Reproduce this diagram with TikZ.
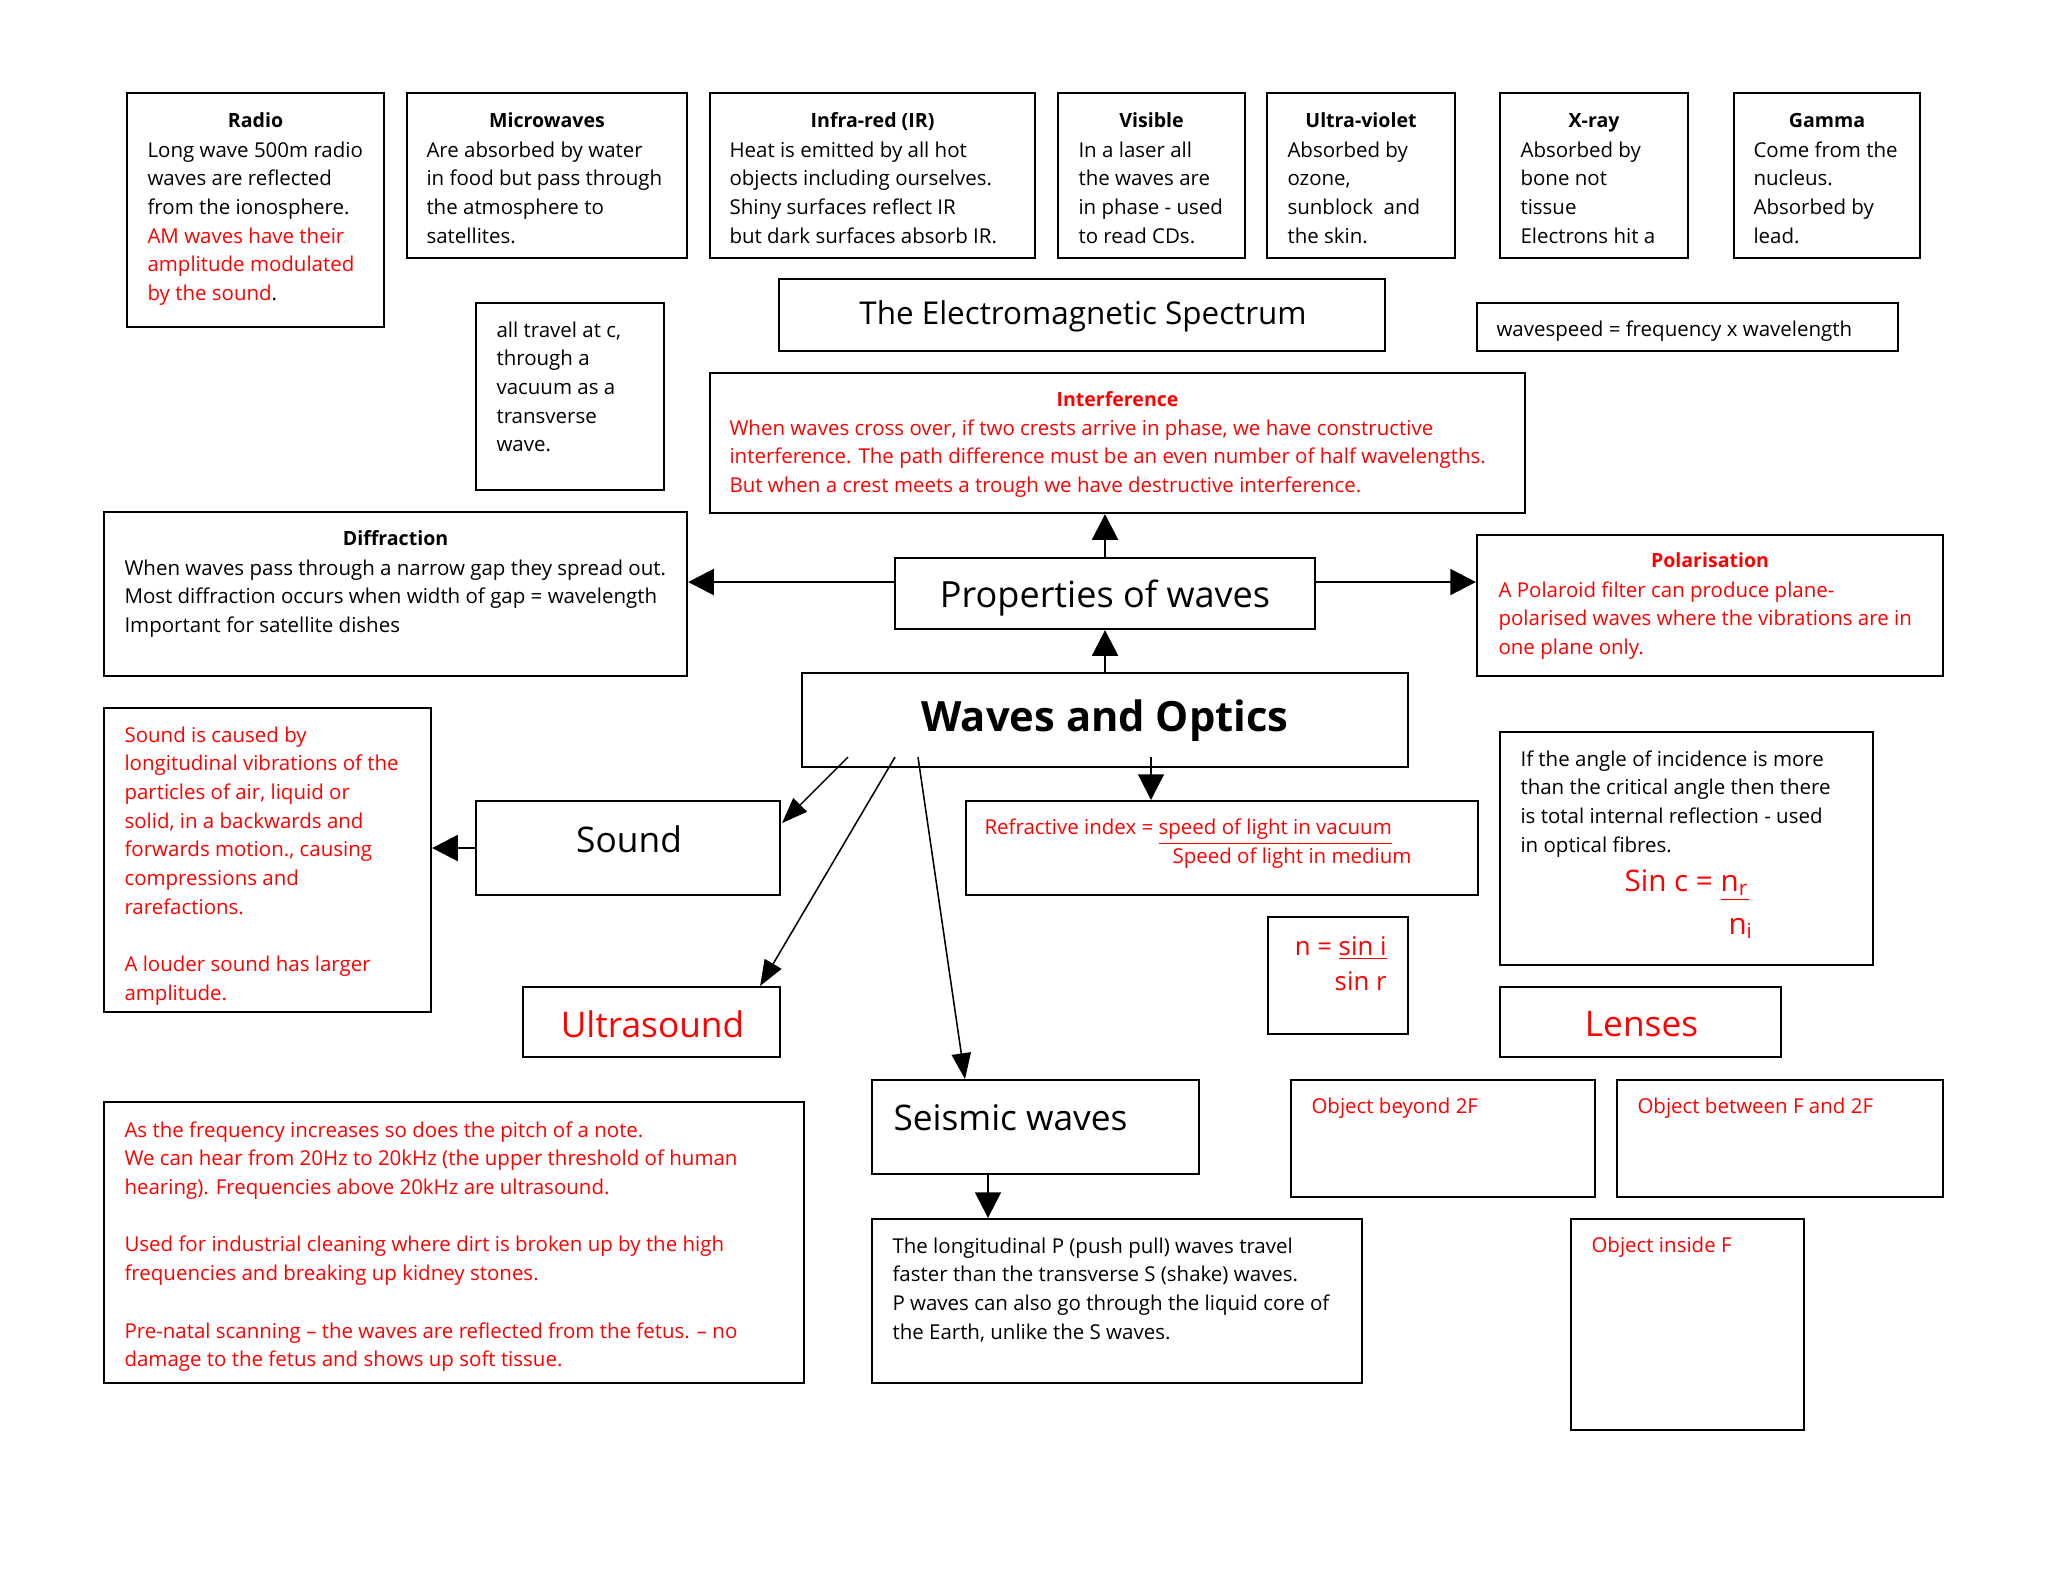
\documentclass[tikz,border=0pt]{standalone}
\usepackage{fontspec}
\setmainfont{Open Sans}
\usetikzlibrary{arrows.meta,calc}
\newdimen\pxu \pxu=0.3882pt
\definecolor{tred}{RGB}{255,0,0}
\newcommand\bodyfont{\fontsize{7.95}{11.14}\selectfont}
\newcommand\ttlfont{\fontsize{7.6}{11.14}\selectfont\bfseries}
\newcommand\bigfont{\fontsize{13.7}{16}\selectfont}
\newcommand\mkbox[5]{\node[box, minimum width={(#4-#2)*\pxu}, minimum height={(#5-#3)*\pxu}] (#1) at (#2,#3) {};}
\begin{document}
\begin{tikzpicture}[x=0.3882pt,y=-0.3882pt,
 box/.style={draw, line width=0.8pt, anchor=north west, inner sep=0pt},
 txt/.style={anchor=north west, inner sep=0pt, align=left, font=\bodyfont, execute at begin node=\strut},
 ttl/.style={anchor=base, inner sep=0pt, font=\ttlfont},
 big/.style={anchor=base, inner sep=0pt, font=\bigfont},
 thickarr/.style={line width=1.1pt, -{Triangle[length=10pt,width=10pt]}},
 thinarr/.style={line width=0.6pt, -{Triangle[length=10pt,width=7.5pt]}},
]
\useasboundingbox (0,0) rectangle (2048,1582);
% boxes
\mkbox{radio}{126}{92}{383}{326}
\mkbox{micro}{406}{92}{686}{257}
\mkbox{ir}{709}{92}{1034}{257}
\mkbox{vis}{1057}{92}{1244}{257}
\mkbox{uv}{1266}{92}{1454}{257}
\mkbox{xray}{1499}{92}{1687}{257}
\mkbox{gamma}{1733}{92}{1919}{257}
\mkbox{travel}{475}{302}{663}{489}
\mkbox{em}{778}{278}{1384}{350}
\mkbox{wspeed}{1476}{302}{1897}{350}
\mkbox{interf}{709}{372}{1524}{512}
\mkbox{diffr}{103}{511}{686}{675}
\mkbox{props}{894}{557}{1314}{628}
\mkbox{polar}{1476}{534}{1942}{675}
\mkbox{soundtxt}{103}{707}{430}{1011}
\mkbox{wo}{801}{672}{1407}{766}
\mkbox{sound}{475}{800}{779}{894}
\mkbox{refr}{965}{800}{1477}{894}
\mkbox{tir}{1499}{731}{1872}{964}
\mkbox{nsin}{1267}{916}{1407}{1033}
\mkbox{ultra}{522}{986}{779}{1056}
\mkbox{lenses}{1499}{986}{1780}{1056}
\mkbox{ustxt}{103}{1101}{803}{1382}
\mkbox{seismic}{871}{1079}{1198}{1173}
\mkbox{pwaves}{871}{1218}{1361}{1382}
\mkbox{beyond}{1290}{1079}{1594}{1196}
\mkbox{between}{1616}{1079}{1942}{1196}
\mkbox{inside}{1570}{1218}{1803}{1429}
% top row texts
\node[ttl] (radioT) at ($(radio.north)+(0,35)$) {Radio};
\node[txt] (radioB) at ($(radio.north west)+(21,49)$) {Long wave 500m radio\\waves are reflected\\from the ionosphere.\\\textcolor{tred}{AM waves have their}\\\textcolor{tred}{amplitude modulated}\\\textcolor{tred}{by the sound}.};
\node[ttl] (microT) at ($(micro.north)+(0,35)$) {Microwaves};
\node[txt] (microB) at ($(micro.north west)+(20,49)$) {Are absorbed by water\\in food but pass through\\the atmosphere to\\satellites.};
\node[ttl] (irT) at ($(ir.north)+(0,35)$) {Infra-red (IR)};
\node[txt] (irB) at ($(ir.north west)+(20,49)$) {Heat is emitted by all hot\\objects including ourselves.\\Shiny surfaces reflect IR\\but dark surfaces absorb IR.};
\node[ttl] (visT) at ($(vis.north)+(0,35)$) {Visible};
\node[txt] (visB) at ($(vis.north west)+(21,49)$) {In a laser all\\the waves are\\in phase - used\\to read CDs.};
\node[ttl] (uvT) at ($(uv.north)+(0,35)$) {Ultra-violet};
\node[txt] (uvB) at ($(uv.north west)+(21,49)$) {Absorbed by\\ozone,\\sunblock~ and\\the skin.};
\node[ttl] (xrayT) at ($(xray.north)+(0,35)$) {X-ray};
\node[txt] (xrayB) at ($(xray.north west)+(21,49)$) {Absorbed by\\bone not\\tissue\\Electrons hit a};
\node[ttl] (gammaT) at ($(gamma.north)+(0,35)$) {Gamma};
\node[txt] (gammaB) at ($(gamma.north west)+(20,49)$) {Come from the\\nucleus.\\Absorbed by\\lead.};
% second row
\node[txt] (travelB) at ($(travel.north west)+(21,19)$) {all travel at c,\\through a\\vacuum as a\\transverse\\wave.};
\node[anchor=base, inner sep=0pt, font=\fontsize{12.2}{14}\selectfont] (emT) at ($(em.north)+(1,46)$) {The Electromagnetic Spectrum};
\node[txt] (wspeedT) at ($(wspeed.north west)+(20,14)$) {wavespeed = frequency x wavelength};
\node[ttl, text=tred] (interfT) at ($(interf.north)+(0,34)$) {Interference};
\node[txt, text=tred] (interfB) at ($(interf.north west)+(20,47)$) {When waves cross over, if two crests arrive in phase, we have constructive\\interference. The path difference must be an even number of half wavelengths.\\But when a crest meets a trough we have destructive interference.};
\node[ttl] (diffrT) at ($(diffr.north)+(0,34)$) {Diffraction};
\node[txt] (diffrB) at ($(diffr.north west)+(21,48)$) {When waves pass through a narrow gap they spread out.\\Most diffraction occurs when width of gap = wavelength\\Important for satellite dishes};
\node[big, font=\fontsize{14}{16}\selectfont] (propsT) at ($(props.north)+(0,50)$) {Properties of waves};
\node[ttl, text=tred] (polarT) at ($(polar.north)+(0,33)$) {Polarisation};
\node[txt, text=tred] (polarB) at ($(polar.north west)+(22,47)$) {A Polaroid filter can produce plane-\\polarised waves where the vibrations are in\\one plane only.};
\node[anchor=base, inner sep=0pt, font=\fontsize{16.2}{19}\selectfont\bfseries] (woT) at ($(wo.north)+(0,59)$) {Waves and Optics};
\node[txt, text=tred] (soundB) at ($(soundtxt.north west)+(21,19)$) {Sound is caused by\\longitudinal vibrations of the\\particles of air, liquid or\\solid, in a backwards and\\forwards motion., causing\\compressions and\\rarefactions.\\[11.14pt]A louder sound has larger\\amplitude.};
\node[big] (soundT) at ($(sound.north)+(1,52)$) {Sound};
\node[txt, text=tred] (refrA) at ($(refr.north west)+(19,14)$) {Refractive index = \underline{speed of light in vacuum}};
\node[txt, text=tred] (refrB) at ($(refr.north west)+(207,43)$) {Speed of light in medium};
\node[txt] (tirB) at ($(tir.north west)+(21,19)$) {If the angle of incidence is more\\than the critical angle then there\\is total internal reflection - used\\in optical fibres.};
\node[anchor=base west, inner sep=0pt, text=tred, font=\fontsize{11.5}{14}\selectfont] (sinc) at ($(tir.north west)+(125,160)$) {Sin c = \underline{n\textsubscript{r}}};
\node[anchor=base west, inner sep=0pt, text=tred, font=\fontsize{11.5}{14}\selectfont] (ni) at ($(tir.north west)+(229,203)$) {n\textsubscript{i}};
\node[anchor=base east, inner sep=0pt, text=tred, font=\fontsize{10}{12}\selectfont] (nsinA) at ($(nsin.north east)+(-22,39)$) {n = \underline{sin i}};
\node[anchor=base east, inner sep=0pt, text=tred, font=\fontsize{10}{12}\selectfont] (nsinB) at ($(nsin.north east)+(-22,74)$) {sin r};
\node[big, text=tred] (ultraT) at ($(ultra.north)+(1,51)$) {Ultrasound};
\node[big, text=tred] (lensesT) at ($(lenses.north)+(1,50)$) {Lenses};
\node[txt, text=tred] (usB) at ($(ustxt.north west)+(21,20)$) {As the frequency increases so does the pitch of a note.\\We can hear from 20Hz to 20kHz (the upper threshold of human\\hearing). Frequencies above 20kHz are ultrasound.\\[11.14pt]Used for industrial cleaning where dirt is broken up by the high\\frequencies and breaking up kidney stones.\\[11.14pt]Pre-natal scanning -- the waves are reflected from the fetus. -- no\\damage to the fetus and shows up soft tissue.};
\node[anchor=base west, inner sep=0pt, font=\bigfont] (seismicT) at ($(seismic.north west)+(22,51)$) {Seismic waves};
\node[txt] (pwavesB) at ($(pwaves.north west)+(21,19)$) {The longitudinal P (push pull) waves travel\\faster than the transverse S (shake) waves.\\P waves can also go through the liquid core of\\the Earth, unlike the S waves.};
\node[txt, text=tred] (beyondT) at ($(beyond.north west)+(21,14)$) {Object beyond 2F};
\node[txt, text=tred] (betweenT) at ($(between.north west)+(21,14)$) {Object between F and 2F};
\node[txt, text=tred] (insideT) at ($(inside.north west)+(21,14)$) {Object inside F};
% connectors
\draw[thickarr] ($(props.west)+(0,-11.5)$) coordinate (pw) -- (pw -| diffr.east);
\draw[thickarr] ($(props.east)+(0,-11.5)$) coordinate (pe) -- (pe -| polar.west);
\draw[thickarr] (props.north) -- (props.north |- interf.south);
\draw[thickarr] (wo.north) -- (props.south);
\draw[line width=0.9pt, -{Triangle[length=10pt,width=10pt]}] ($(wo.south west)+(350,-11)$) coordinate (wr) -- (wr |- refr.north);
\draw[thinarr] ($(wo.south west)+(47,-11)$) -- ($(sound.north east)+(1,23)$);
\draw[thinarr] ($(wo.south west)+(94,-11)$) -- ($(ultra.north east)+(-21,0)$);
\draw[thinarr] ($(wo.south west)+(117,-11)$) -- ($(seismic.north west)+(94,0)$);
\draw[thickarr] (sound.west) -- (sound.west -| soundtxt.east);
\draw[thickarr] ($(seismic.south west)+(117,0)$) coordinate (sp) -- (sp |- pwaves.north);
\end{tikzpicture}
\end{document}
